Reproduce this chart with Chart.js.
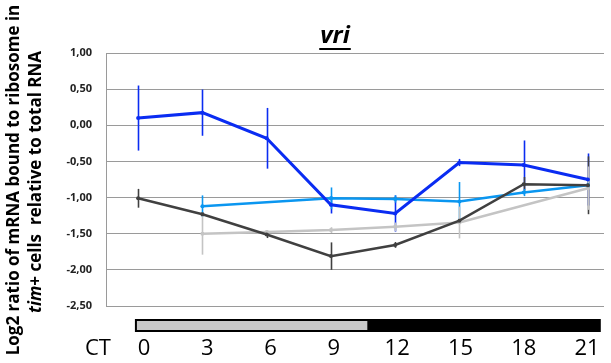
<!DOCTYPE html>
<html>
<head>
<meta charset="utf-8">
<script src="https://cdn.jsdelivr.net/npm/chart.js"></script>
<style>
html, body { margin: 0; padding: 0; background: #fff; }
#wrap { width: 611px; height: 363px; position: relative; }
</style>
</head>
<body>
<div id="wrap"><canvas id="vriChart"></canvas></div>
<script>
// CT sampling times (also the x tick labels)
const ctHours = [0, 3, 6, 9, 12, 15, 18, 21];
const yTicks = [1, 0.5, 0, -0.5, -1, -1.5, -2, -2.5];

// log2 ratios, with their error bar half-lengths
const darkBlue     = [0.10, 0.175, -0.18, -1.10, -1.22, -0.515, -0.55, -0.75];
const darkBlueErr  = [0.45, 0.32, 0.42, 0.12, 0.25, 0.05, 0.34, 0.36];
const darkGray     = [-1.01, -1.23, -1.51, -1.81, -1.655, -1.32, -0.815, -0.83];
const darkGrayErr  = [0.13, 0.03, 0.05, 0.19, 0.04, 0.03, 0.10, 0.40];
const lightBlue    = [null, -1.12, null, -1.01, -1.02, -1.055, -0.93, -0.83];
const lightBlueErr = [null, 0.15, null, 0.15, 0.05, 0.27, 0.05, 0.05];
const lightGray    = [null, -1.50, -1.475, -1.45, -1.405, -1.345, null, -0.87];
const lightGrayErr = [null, 0.29, 0.02, 0.04, 0.06, 0.22, null, 0.30];

// light / dark phase bar under the axis (in CT hours)
const lightPhase = [-0.15, 10.7];
const darkPhase = [10.7, 21.6];

function toPoints(values) {
    return values.map((v, i) => ({ x: ctHours[i], y: v }));
}

function makeSet(values, errs, color, width) {
    return {
        data: toPoints(values),
        errors: errs,
        borderColor: color,
        backgroundColor: color,
        borderWidth: width,
        pointRadius: 2,
        pointBorderWidth: 0,
        spanGaps: true,
        tension: 0
    };
}

// error bars, drawn under the lines
const errorBars = {
    id: 'errorBars',
    beforeDatasetsDraw(chart) {
        const ctx = chart.ctx;
        const x = chart.scales.x, y = chart.scales.y;
        chart.data.datasets.forEach(ds => {
            ctx.save();
            ctx.strokeStyle = ds.borderColor;
            ctx.lineWidth = 1.6;
            ds.data.forEach((p, i) => {
                const e = ds.errors[i];
                if (p.y === null || e === null) return;
                const px = Math.round(x.getPixelForValue(p.x)) + 0.5;
                ctx.beginPath();
                ctx.moveTo(px, y.getPixelForValue(p.y + e));
                ctx.lineTo(px, y.getPixelForValue(p.y - e));
                ctx.stroke();
            });
            ctx.restore();
        });
    }
};

// title, rotated y title, CT label and light/dark bar
const decorations = {
    id: 'decorations',
    afterDraw(chart) {
        const ctx = chart.ctx;
        const area = chart.chartArea;
        const x = chart.scales.x;
        ctx.save();

        // title "vri" underlined
        ctx.fillStyle = '#000';
        ctx.font = 'italic bold 24px "Open Sans"';
        ctx.textAlign = 'center';
        ctx.textBaseline = 'alphabetic';
        const tx = 335;
        ctx.fillText('vri', tx, 43);
        const tw = ctx.measureText('vri').width;
        ctx.fillRect(tx - tw / 2 - 1, 48, tw + 2, 2);

        // y axis title, two lines, rotated
        const titleFont = '17px "Open Sans"';
        ctx.save();
        ctx.translate(14, 180);
        ctx.rotate(-Math.PI / 2);
        ctx.font = 'bold ' + titleFont;
        ctx.textAlign = 'center';
        ctx.textBaseline = 'middle';
        ctx.fillText('Log2 ratio of mRNA bound to ribosome in', 0, 0);
        ctx.restore();

        ctx.save();
        ctx.translate(36, 182);
        ctx.rotate(-Math.PI / 2);
        ctx.textBaseline = 'middle';
        ctx.textAlign = 'left';
        const italic = 'italic bold ' + titleFont;
        const plain = 'bold ' + titleFont;
        const rest = '+ cells  relative to total RNA';
        ctx.font = italic;
        const w1 = ctx.measureText('tim').width;
        ctx.font = plain;
        const w2 = ctx.measureText(rest).width;
        let sx = -(w1 + w2) / 2;
        ctx.font = italic;
        ctx.fillText('tim', sx, 0);
        ctx.font = plain;
        ctx.fillText(rest, sx + w1, 0);
        ctx.restore();

        // CT label
        ctx.font = '22px "Open Sans"';
        ctx.textAlign = 'center';
        ctx.textBaseline = 'alphabetic';
        ctx.fillText('CT', 98, 355);

        // light / dark bar
        const top = area.bottom + 13, h = 13;
        const l0 = x.getPixelForValue(lightPhase[0]), l1 = x.getPixelForValue(lightPhase[1]);
        const d1 = x.getPixelForValue(darkPhase[1]);
        ctx.fillStyle = '#000';
        ctx.fillRect(l0, top, d1 - l0, h);
        ctx.fillStyle = '#c8c8c8';
        ctx.fillRect(l0 + 2, top + 2, l1 - l0 - 2, h - 4);

        ctx.restore();
    }
};

new Chart(document.getElementById('vriChart'), {
    type: 'line',
    data: {
        datasets: [
            makeSet(darkBlue, darkBlueErr, '#0a2cf2', 3),
            makeSet(darkGray, darkGrayErr, '#404040', 2.5),
            makeSet(lightBlue, lightBlueErr, '#0a96f0', 2.5),
            makeSet(lightGray, lightGrayErr, '#c4c4c4', 2.5)
        ]
    },
    options: {
        responsive: true,
        maintainAspectRatio: false,
        animation: false,
        layout: { padding: { top: 53, right: 7, left: 0, bottom: 0 } },
        plugins: {
            legend: { display: false },
            tooltip: { enabled: false }
        },
        scales: {
            x: { type: 'linear', min: -1.5, max: 21.75, display: false },
            xLab: {
                type: 'linear',
                position: 'bottom',
                min: -1.8,
                max: 21.8,
                afterBuildTicks: s => { s.ticks = ctHours.map(v => ({ value: v })); },
                afterFit: s => { s.height = 57; s.paddingLeft = 0; s.paddingRight = 0; },
                grid: { display: false, drawTicks: false },
                border: { display: false },
                ticks: {
                    font: { family: 'Open Sans', size: 22 },
                    color: '#000',
                    padding: 30,
                    maxRotation: 0,
                    autoSkip: false
                }
            },
            y: {
                min: -2.5,
                max: 1,
                afterBuildTicks: s => { s.ticks = yTicks.map(v => ({ value: v })); },
                afterFit: s => { s.width = 106; s.paddingTop = 0; s.paddingBottom = 0; },
                grid: { color: '#9a9a9a', lineWidth: 1, drawTicks: false },
                border: { color: '#9a9a9a' },
                ticks: {
                    padding: 14,
                    font: { family: 'Open Sans', size: 11, weight: 'bold' },
                    color: '#222',
                    callback: v => v.toFixed(2).replace('.', ',')
                }
            }
        }
    },
    plugins: [errorBars, decorations]
});
</script>
</body>
</html>
